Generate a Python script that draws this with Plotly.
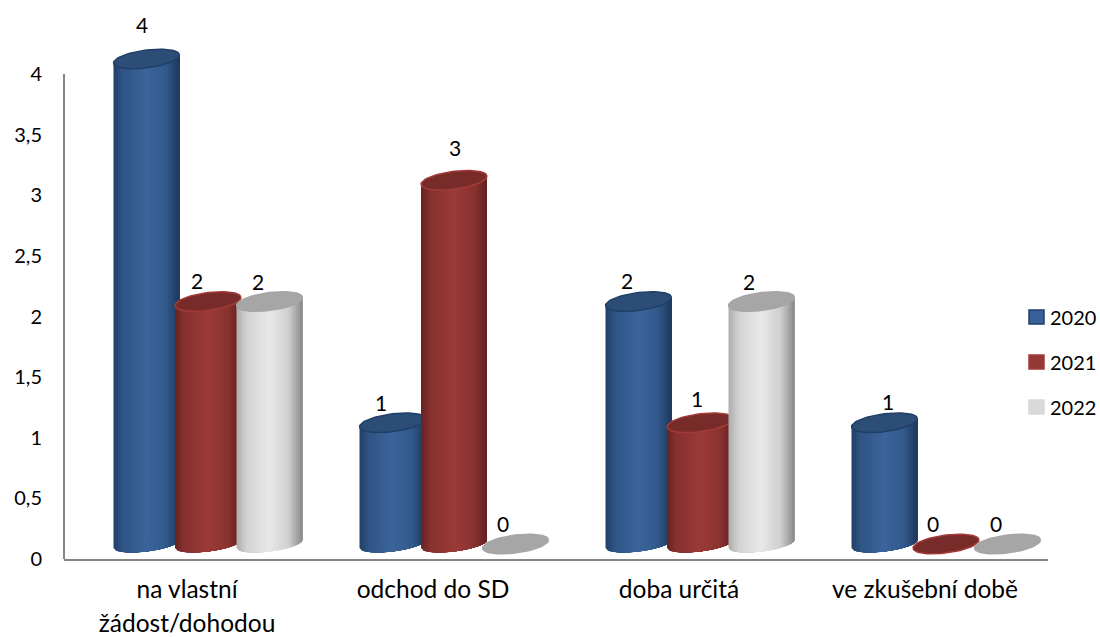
import math
import plotly.graph_objects as go

categories = ["na vlastní<br>žádost/dohodou", "odchod do SD", "doba určitá", "ve zkušební době"]
years = ["2020", "2021", "2022"]
values_2020 = [4, 1, 2, 1]
values_2021 = [2, 3, 1, 0]
values_2022 = [2, 0, 2, 0]
y_ticks = [0, 0.5, 1, 1.5, 2, 2.5, 3, 3.5, 4]

series = [values_2020, values_2021, values_2022]

# styling
W, H = 1100, 637
L, R, T, B = 64, 52, 0, 78
PX_X = (W - L - R) / 4
PX_Y = 485 / 4
Y_TOP = (H - B) / PX_Y
GROUP_SHIFT = 21 / PX_X
STEP = 61.5 / PX_X
BASE = 15 / PX_Y
A, S, E = 33 / PX_X, 4 / PX_Y, 9 / PX_Y
E_BOTTOM = 7.5 / PX_Y
STRIPS = 30
FONT = "Lato"
FS = 20
stops = [
    [(0, "#24426a"), (.12, "#2f5485"), (.5, "#3a659b"), (.8, "#325a8c"), (1, "#1f3a5e")],
    [(0, "#6a2422"), (.12, "#863130"), (.5, "#9a3a38"), (.8, "#8b3331"), (1, "#652221")],
    [(0, "#b0b0b0"), (.15, "#d4d4d4"), (.5, "#e8e8e8"), (.8, "#cfcfcf"), (1, "#8e8e8e")],
]
cap_fill = ["#2c4d75", "#772c2a", "#a6a6a6"]
cap_edge = ["#1f3f68", "#a33a38", "#a6a6a6"]
swatch = ["#386198", "#953735", "#d9d9d9"]
swatch_edge = ["#1f3f68", "#a33a38", "#d9d9d9"]
swatch_top = [310, 355, 400]
# hand placement of the value labels, in pixels from the cylinder top
nudges = [
    [(-5, -35), (-12, -20), (-12, -21), (3, -21)],
    [(-11, -21), (1, -33), (-3, -24), (-13, -21)],
    [(-12, -20), (-13, -21), (-13, -20), (-12, -21)],
]


def hex_rgb(h):
    return [int(h[i:i + 2], 16) for i in (1, 3, 5)]


def mix(st, t):
    for (a, ca), (b, cb) in zip(st, st[1:]):
        if t <= b:
            f = (t - a) / (b - a)
            c = [round(p + (q - p) * f) for p, q in zip(hex_rgb(ca), hex_rgb(cb))]
            return "rgb(%d,%d,%d)" % tuple(c)
    return st[-1][1]


def arc(cx, cy, u):
    return cx + A * u, cy + S * u - E_BOTTOM * math.sqrt(max(0, 1 - u * u))


fig = go.Figure()
common = dict(mode="lines", fill="toself", hoverinfo="skip", showlegend=False)

for si, vals in enumerate(series):
    centers = [i + GROUP_SHIFT + (si - 1) * STEP for i in range(len(vals))]
    for k in range(STRIPS):
        u0 = -1 + 2 * k / STRIPS
        xs, ys = [], []
        for cx, v in zip(centers, vals):
            if v == 0:
                continue
            us = [u0 + (1 - u0) * j / 24 for j in range(25)]
            bottom = [arc(cx, BASE, u) for u in us]
            xs += [p[0] for p in bottom] + [cx + A, cx + A * u0, None]
            ys += [p[1] for p in bottom] + [BASE + v + S, BASE + v + S * u0, None]
        fig.add_trace(go.Scatter(x=xs, y=ys, line=dict(width=0), fillcolor=mix(stops[si], k / (STRIPS - 1)), **common))
    xs, ys = [], []
    for cx, v in zip(centers, vals):
        for j in range(73):
            th = 2 * math.pi * j / 72
            u = math.cos(th)
            xs.append(cx + A * u)
            ys.append(BASE + v + S * u + E * math.sin(th))
        xs.append(None)
        ys.append(None)
    fig.add_trace(go.Scatter(x=xs, y=ys, line=dict(width=1.5, color=cap_edge[si]), fillcolor=cap_fill[si], **common))

for si, vals in enumerate(series):
    for i, v in enumerate(vals):
        dx, dy = nudges[si][i]
        fig.add_annotation(
            x=i + GROUP_SHIFT + (si - 1) * STEP, y=BASE + v, text=str(v), showarrow=False,
            xshift=dx, yshift=-dy, font=dict(family=FONT, size=21, color="#000000"),
        )

for si, name in enumerate(years):
    fig.add_trace(go.Scatter(
        x=[None], y=[None], mode="markers", name=name, legendgroup=name,
        marker=dict(symbol="square", size=14, color="rgba(0,0,0,0)", line=dict(width=0)),
    ))
    fig.add_shape(
        type="rect", xref="paper", yref="paper",
        x0=(1029 - L) / (W - L - R), x1=(1044 - L) / (W - L - R),
        y0=(H - B - swatch_top[si]) / (H - B), y1=(H - B - swatch_top[si] - 14) / (H - B),
        fillcolor=swatch[si], line=dict(width=1.5, color=swatch_edge[si]),
    )

fig.add_shape(type="line", xref="paper", yref="y", x0=0, x1=0, y0=0, y1=max(y_ticks),
              line=dict(color="#868686", width=2))

fig.update_layout(
    width=W, height=H, autosize=False,
    margin=dict(l=L, r=R, t=T, b=B, pad=0, autoexpand=False),
    paper_bgcolor="white", plot_bgcolor="white",
    separators=", ",
    font=dict(family=FONT, size=FS, color="#000000"),
    xaxis=dict(
        range=[-0.5, 3.5], tickmode="array", tickvals=list(range(len(categories))),
        ticktext=["<br>".join("<span style='font-size:24.5px'>%s</span>" % p for p in c.split("<br>")) for c in categories],
        tickfont=dict(family=FONT, size=25.4, color="#000000"),
        showgrid=False, zeroline=False, showline=True, linecolor="#868686", linewidth=2,
        ticks="", tickangle=0, fixedrange=True, ticklabelstandoff=7,
    ),
    yaxis=dict(
        range=[0, Y_TOP], tickmode="array", tickvals=y_ticks,
        ticktext=[str(t).replace(".", ",").replace(",0", "") for t in y_ticks],
        tickfont=dict(family=FONT, size=FS, color="#000000"),
        showgrid=False, zeroline=False, showline=False,
        ticks="", ticklabelstandoff=21, fixedrange=True,
    ),
    legend=dict(
        xref="container", yref="container",
        x=1010 / W, xanchor="left",
        y=1 - 298 / H, yanchor="top",
        tracegroupgap=16, itemwidth=30, bgcolor="rgba(0,0,0,0)",
        font=dict(family=FONT, size=FS, color="#000000"),
    ),
)

fig.write_html("out.html", config={"displayModeBar": False}, post_script="document.body.style.margin='0';")
